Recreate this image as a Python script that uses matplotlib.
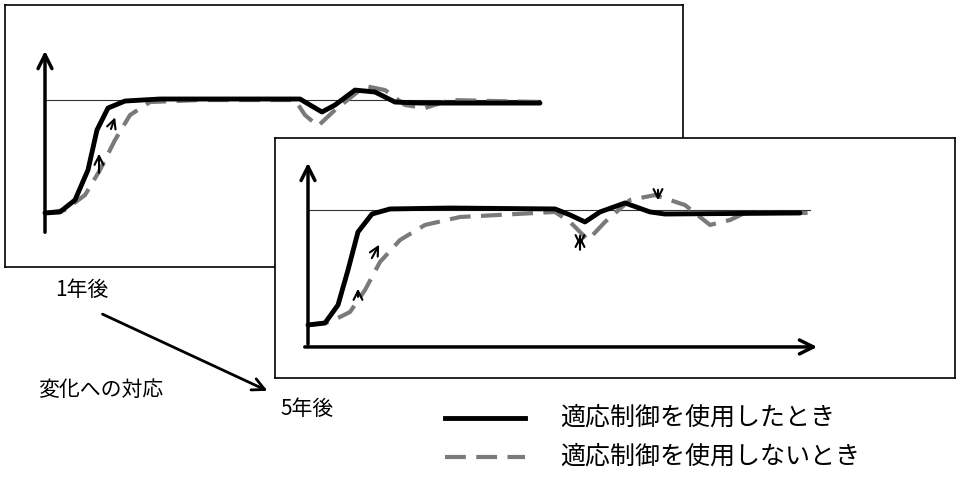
import matplotlib
matplotlib.use("Agg")
import matplotlib.pyplot as plt

plt.rcParams['font.family'] = ['Noto Sans CJK JP', 'DejaVu Sans']

W, H = 960, 482

# response curves: t (time units), v (0 = start level, 1 = target level)
p1_solid_t = [0, 3, 6, 8.6, 10.4, 12.6, 16, 23, 51, 53, 55.4, 58, 62, 66, 70, 75, 99]
p1_solid_v = [0, .009, .115, .381, .735, .929, .991, 1.009, 1.009, .956, .894, .956, 1.088, 1.071, .982, .973, .973]
p1_dash_t = [0, 4, 8, 11, 14, 17, 21, 31, 50, 52, 54.6, 58, 64, 68, 72, 76, 81, 99]
p1_dash_v = [0, .027, .159, .381, .646, .867, .982, 1.0, 1.0, .867, .770, .912, 1.124, 1.088, .956, .929, 1.0, .982]

p2_solid_t = [0, 3.4, 6, 8, 10, 12.8, 16.4, 28.4, 49.4, 52.4, 55.4, 58.4, 63.4, 68.4, 71.4, 98.4]
p2_solid_v = [0, .017, .174, .478, .809, .965, 1.009, 1.017, 1.009, .957, .896, .983, 1.061, .983, .965, .974]
p2_dash_t = [0, 4.4, 8.4, 11.4, 14.4, 18.4, 23.4, 30.4, 49.4, 52.4, 56, 59.4, 64.4, 69.4, 75.4, 80.4, 84.4, 87.4, 100.4]
p2_dash_v = [0, .026, .113, .304, .548, .739, .870, .939, .983, .896, .739, .896, 1.087, 1.130, 1.043, .870, .913, .974, .974]

labels = ["1年後", "5年後"]
legend_labels = ["適応制御を使用したとき", "適応制御を使用しないとき"]
DASH = "#7a7a7a"

fig = plt.figure(figsize=(W / 100, H / 100), dpi=100)

def fig_rect(x0, y0, x1, y1):
    return [x0 / W, 1 - y1 / H, (x1 - x0) / W, (y1 - y0) / H]

bg = fig.add_axes([0, 0, 1, 1], zorder=0)
bg.set_xlim(0, W)
bg.set_ylim(H, 0)
bg.axis("off")

def panel(rect, xlim, ylim, st, sv, dt, dv, y0, ytop, xend, ref_end, arrows, z):
    ax = fig.add_axes(rect, zorder=z)
    ax.set_facecolor("white")
    ax.set_xlim(*xlim)
    ax.set_ylim(*ylim)
    ax.set_xticks([])
    ax.set_yticks([])
    for s in ax.spines.values():
        s.set_linewidth(1.2)
        s.set_color("black")
    ax.plot([0, ref_end], [1, 1], color="#333333", lw=0.8)
    ax.annotate("", xy=(0, ytop), xytext=(0, y0),
                arrowprops=dict(arrowstyle="->", lw=2.5, color="black", mutation_scale=25))
    ax.annotate("", xy=(xend, y0), xytext=(-1.2, y0),
                arrowprops=dict(arrowstyle="->", lw=2.5, color="black", mutation_scale=25))
    ax.plot(dt, dv, color=DASH, lw=3, dashes=(5, 2.5), dash_joinstyle="round")
    ax.plot(st, sv, color="black", lw=3.5, solid_joinstyle="round", solid_capstyle="round")
    for (a, b) in arrows:
        ax.annotate("", xy=b, xytext=a,
                    arrowprops=dict(arrowstyle="->", lw=1.5, color="black", mutation_scale=16))
    return ax

panel(fig_rect(5, 5, 683, 267), (-8, 127.6), (-0.478, 1.841),
      p1_solid_t, p1_solid_v, p1_dash_t, p1_dash_v, -0.195, 1.46, 130, 99,
      [((10.8, 0.33), (10.8, 0.55)), ((13.0, 0.72), (14.2, 0.87))], 1)
panel(fig_rect(275, 138, 955, 378), (-6.6, 129.4), (-0.461, 1.626),
      p2_solid_t, p2_solid_v, p2_dash_t, p2_dash_v, -0.191, 1.435, 102.4, 100.4,
      [((10.0, 0.22), (10.0, 0.34)), ((12.5, 0.56), (14.5, 0.72)),
       ((54.4, 0.63), (54.4, 0.80)), ((54.4, 0.80), (54.4, 0.66)),
       ((70.0, 1.20), (70.0, 1.06))], 2)

bg.text(55, 290, labels[0], fontsize=15, va="center")
bg.text(280, 409, labels[1], fontsize=15, va="center")
bg.text(38, 390, "変化への対応", fontsize=15, va="center")
bg.annotate("", xy=(270, 392), xytext=(100, 313),
            arrowprops=dict(arrowstyle="->", lw=2, color="black", mutation_scale=22))

lg = fig.add_axes([0, 0, 1, 1], zorder=3)
lg.set_xlim(0, W)
lg.set_ylim(H, 0)
lg.axis("off")
lg.plot([445, 525], [418, 418], color="black", lw=3.5)
lg.plot([445, 525], [457, 457], color=DASH, lw=3, dashes=(5, 2.5))
lg.text(560, 418, legend_labels[0], fontsize=18, va="center")
lg.text(560, 457, legend_labels[1], fontsize=18, va="center")

fig.savefig("out.png", dpi=100)
